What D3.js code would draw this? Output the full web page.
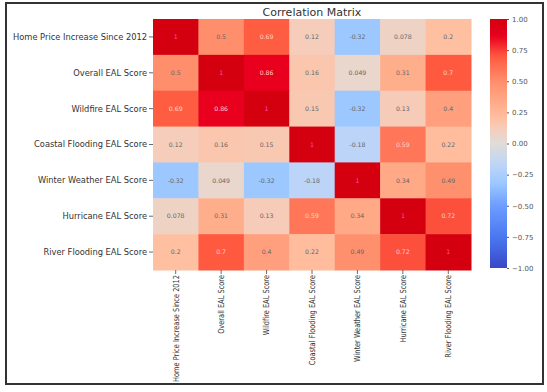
<!DOCTYPE html>
<html><head><meta charset="utf-8">
<script src="https://cdn.jsdelivr.net/npm/d3@7"></script>
<style>body{margin:0;background:#fff;}svg{display:block;font-family:"DejaVu Sans",sans-serif;}</style>
</head><body><svg id="c" width="547" height="392"></svg>
<script>
const labels = ["Home Price Increase Since 2012","Overall EAL Score","Wildfire EAL Score","Coastal Flooding EAL Score","Winter Weather EAL Score","Hurricane EAL Score","River Flooding EAL Score"];
const row0 = [1, 0.5, 0.69, 0.12, -0.32, 0.078, 0.2];
const row1 = [0.5, 1, 0.86, 0.16, 0.049, 0.31, 0.7];
const row2 = [0.69, 0.86, 1, 0.15, -0.32, 0.13, 0.4];
const row3 = [0.12, 0.16, 0.15, 1, -0.18, 0.59, 0.22];
const row4 = [-0.32, 0.049, -0.32, -0.18, 1, 0.34, 0.49];
const row5 = [0.078, 0.31, 0.13, 0.59, 0.34, 1, 0.72];
const row6 = [0.2, 0.7, 0.4, 0.22, 0.49, 0.72, 1];
const matrix = [row0,row1,row2,row3,row4,row5,row6];
const cbTicks = [1, 0.75, 0.5, 0.25, 0, -0.25, -0.5, -0.75, -1];
const title = "Correlation Matrix";

const stopVals = [-1,-0.75,-0.5,-0.32,-0.18,0,0.1,0.2,0.31,0.5,0.7,0.86,1];
const stopCols = ["#3848c8","#4a78f0","#6e9cff","#9cc8ff","#bcd4f8","#e0dcd8","#f2d0c0","#ffc0a2","#ffae8c","#ff8e6c","#ff5a40","#e8001e","#d4000f"];
const color = d3.scaleLinear().domain(stopVals).range(stopCols).interpolate(d3.interpolateRgb).clamp(true);

const svg = d3.select("#c");
svg.append("rect").attr("x",6).attr("y",3).attr("width",537).attr("height",381)
  .attr("fill","#fff").attr("stroke","#333").attr("stroke-width",2);

const x = d3.scaleBand().domain(d3.range(labels.length)).range([153,471]);
const y = d3.scaleBand().domain(d3.range(labels.length)).range([19,270]);

const cells = [];
matrix.forEach((r,i)=>r.forEach((v,j)=>cells.push({i,j,v})));
svg.append("g").selectAll("rect").data(cells).join("rect")
  .attr("x",d=>x(d.j)).attr("y",d=>y(d.i))
  .attr("width",x.bandwidth()+0.5).attr("height",y.bandwidth()+0.5)
  .attr("fill",d=>color(d.v));
svg.append("g").selectAll("text").data(cells).join("text")
  .attr("x",d=>x(d.j)+x.bandwidth()/2).attr("y",d=>y(d.i)+y.bandwidth()/2)
  .attr("dy","0.35em").attr("text-anchor","middle").attr("font-size",6.2)
  .attr("fill",d=>d.v===1?"#ff4fa8":(d.v>0.55?"#ffd0c8":"#666"))
  .text(d=>String(d.v));

// y axis
const ya = svg.append("g");
labels.forEach((l,i)=>{
  const cy = y(i)+y.bandwidth()/2;
  ya.append("line").attr("x1",149).attr("x2",153).attr("y1",cy).attr("y2",cy).attr("stroke","#444").attr("stroke-width",0.8);
  ya.append("text").attr("x",147).attr("y",cy).attr("dy","0.35em").attr("text-anchor","end")
    .attr("font-size",8.3).attr("fill","#333").text(l);
});
// x axis
const xa = svg.append("g");
labels.forEach((l,j)=>{
  const cx = x(j)+x.bandwidth()/2;
  xa.append("line").attr("x1",cx).attr("x2",cx).attr("y1",270).attr("y2",274).attr("stroke","#444").attr("stroke-width",0.8);
  xa.append("text").attr("transform",`translate(${cx},275) rotate(-90) scale(0.8,1)`)
    .attr("dy","0.35em").attr("text-anchor","end").attr("font-size",8.3).attr("fill","#333").text(l);
});

// title
svg.append("text").attr("x",312).attr("y",16).attr("text-anchor","middle")
  .attr("font-size",11).attr("fill","#333").text(title);

// colorbar
const cy = d3.scaleLinear().domain([-1,1]).range([268,19]);
const defs = svg.append("defs");
const grad = defs.append("linearGradient").attr("id","cb").attr("x1",0).attr("x2",0).attr("y1",1).attr("y2",0);
d3.range(0,1.0001,0.02).forEach(t=>{
  grad.append("stop").attr("offset",t).attr("stop-color",color(-1+2*t));
});
svg.append("rect").attr("x",490).attr("y",cy(1)).attr("width",17).attr("height",cy(-1)-cy(1)).attr("fill","url(#cb)");
const cbAxis = d3.axisRight(cy).tickValues(cbTicks).tickSize(2).tickFormat(d=>d3.format(".2f")(d).replace("-","\u2212"));
const cbg = svg.append("g").attr("transform","translate(507,0)").call(cbAxis);
cbg.select(".domain").remove();
cbg.selectAll("text").attr("font-size",7).attr("fill","#555").attr("font-family","DejaVu Sans, sans-serif");
cbg.selectAll("line").attr("stroke","#555");
</script></body></html>
